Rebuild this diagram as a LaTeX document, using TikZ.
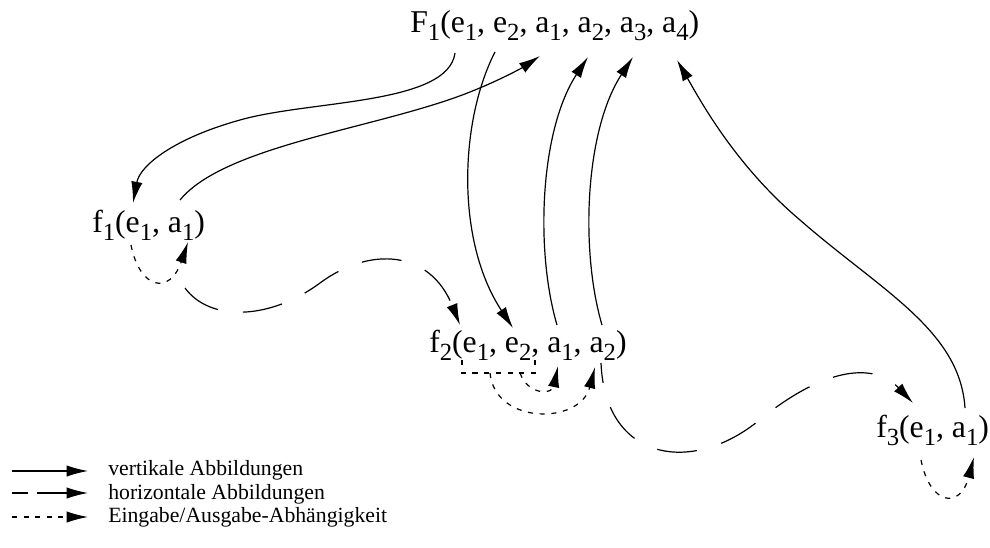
\documentclass[tikz,border=0pt]{standalone}
\usepackage{fontspec}
\setmainfont{Liberation Serif}
\usetikzlibrary{arrows.meta}
\newcommand\sbx[1]{\raisebox{-6.5pt}{\fontsize{18.5pt}{20pt}\selectfont #1}}
\begin{document}
\begin{tikzpicture}[x=0.75pt,y=-0.75pt,
  lbl/.style={inner sep=0pt, anchor=base west, font=\fontsize{23.8pt}{26pt}\selectfont},
  leg/.style={inner sep=0pt, anchor=base west, font=\fontsize{16.3pt}{18pt}\selectfont},
  tip/.style={-{Latex[length=16pt,width=8.5pt]}},
  vert/.style={tip, line width=0.9pt},
  horiz/.style={tip, line width=0.9pt, dash pattern=on 30pt off 19pt},
  ea/.style={line width=0.9pt, dash pattern=on 3.8pt off 5pt},
  eaarrow/.style={ea, tip}]
\path[use as bounding box] (0,0) rectangle (990,547);

% function nodes
\node[lbl] (F1) at (410,32) {F\sbx{1}(e\sbx{1}, e\sbx{2}, a\sbx{1}, a\sbx{2}, a\sbx{3}, a\sbx{4})};
\node[lbl] (f1) at (92,232) {f\sbx{1}(e\sbx{1}, a\sbx{1})};
\node[lbl] (f2) at (429,352) {f\sbx{2}(e\sbx{1}, e\sbx{2}, a\sbx{1}, a\sbx{2})};
\node[lbl] (f3) at (876,437) {f\sbx{3}(e\sbx{1}, a\sbx{1})};

% attachment points
\coordinate (F1e1) at (455,53);
\coordinate (F1e2) at (495,52);
\coordinate (F1a1) at (540,56);
\coordinate (F1a2) at (588,57);
\coordinate (F1a3) at (633,57);
\coordinate (F1a4) at (677,60);
\coordinate (f1e1t) at (133,203);
\coordinate (f1a1t) at (180,200);
\coordinate (f1e1b) at (131,245);
\coordinate (f1a1b) at (188,242);
\coordinate (f1out) at (185,288);
\coordinate (f2e1t) at (460,325);
\coordinate (f2e2t) at (513,328);
\coordinate (f2a1t) at (557,325);
\coordinate (f2a2t) at (602,325);
\coordinate (f2e1b) at (462,360);
\coordinate (f2e2b) at (535,360);
\coordinate (f2bl) at (462,373);
\coordinate (f2br) at (535,373);
\coordinate (f2j1) at (490,373);
\coordinate (f2j2) at (520,373);
\coordinate (f2a1b) at (558,366);
\coordinate (f2a2b) at (595,367);
\coordinate (f2out) at (601,363);
\coordinate (f3in) at (913,403);
\coordinate (f3a1t) at (965,408);
\coordinate (f3e1b) at (921,460);
\coordinate (f3a1b) at (974,457);

% vertical mappings
\draw[vert] (F1e1) .. controls (448,105) and (310,100) .. (240,120)
  .. controls (175,138) and (140,165) .. (f1e1t);
\draw[vert] (f1a1t) .. controls (225,145) and (380,128) .. (470,92)
  .. controls (505,78) and (525,66) .. (F1a1);
\draw[vert] (F1e2) .. controls (460,120) and (455,240) .. (f2e2t);
\draw[vert] (f2a1t) .. controls (535,250) and (540,130) .. (F1a2);
\draw[vert] (f2a2t) .. controls (580,250) and (585,130) .. (F1a3);
\draw[vert] (f3a1t) .. controls (960,330) and (880,290) .. (800,220)
  .. controls (735,165) and (700,100) .. (F1a4);

% horizontal mappings
\draw[horiz] (f1out) .. controls (210,322) and (270,320) .. (320,283)
  .. controls (370,246) and (430,250) .. (f2e1t);
\draw[horiz, dash phase=15pt] (f2out) .. controls (605,460) and (690,475) .. (757,422)
  .. controls (820,370) and (872,360) .. (f3in);

% input/output dependencies
\draw[eaarrow] (f1e1b) .. controls (140,290) and (170,295) .. (f1a1b);
\draw[eaarrow] (f3e1b) .. controls (930,505) and (960,510) .. (f3a1b);
\draw[ea] (f2e1b) -- (f2bl) -- (f2br) -- (f2e2b);
\draw[eaarrow] (f2j1) .. controls (495,425) and (580,425) .. (f2a2b);
\draw[eaarrow] (f2j2) .. controls (528,395) and (552,395) .. (f2a1b);

% legend
\node[leg] (leg1) at (108,475) {vertikale Abbildungen};
\node[leg] (leg2) at (108,499) {horizontale Abbildungen};
\node[leg] (leg3) at (108,522) {Eingabe/Ausgabe-Abhängigkeit};
\coordinate (l1s) at (12,471);
\coordinate (l1e) at (88,471);
\coordinate (l2s) at (12,493);
\coordinate (l2e) at (88,493);
\coordinate (l3s) at (12,517);
\coordinate (l3e) at (88,517);
\draw[vert] (l1s) -- (l1e);
\draw[tip, line width=0.9pt, dash pattern=on 12pt off 6.5pt on 40pt off 10pt] (l2s) -- (l2e);
\draw[eaarrow, dash pattern=on 3.75pt off 4.9pt] (l3s) -- (l3e);
\end{tikzpicture}
\end{document}
